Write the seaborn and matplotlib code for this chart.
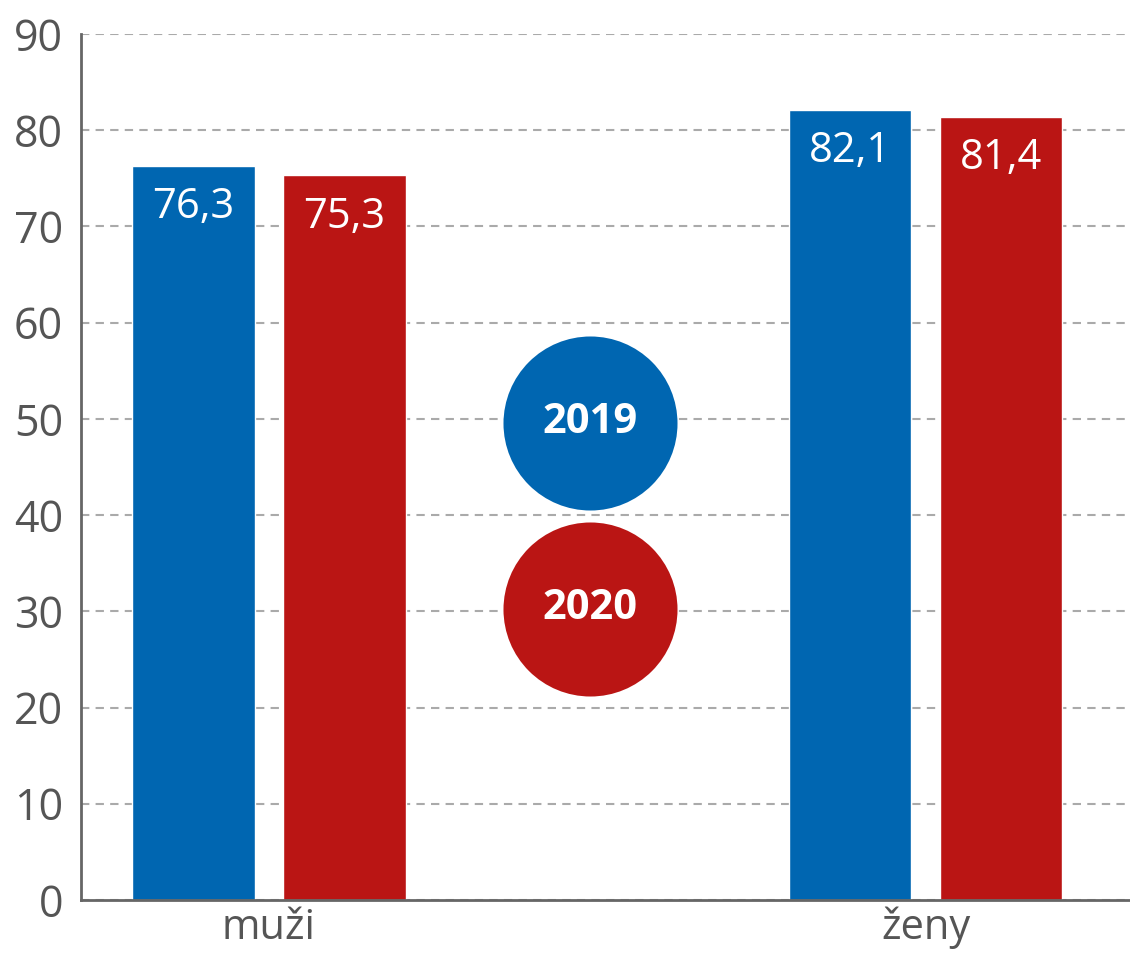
import matplotlib
matplotlib.use("Agg")
import matplotlib.pyplot as plt
import seaborn as sns
import pandas as pd

# data
groups = ["muži", "ženy"]
years = ["2019", "2020"]
val_2019 = [76.3, 82.1]
val_2020 = [75.3, 81.4]
colors = {"2019": "#0066b1", "2020": "#ba1514"}

df = pd.DataFrame({
    "pohlavi": groups * 2,
    "rok": [years[0]] * 2 + [years[1]] * 2,
    "hodnota": val_2019 + val_2020,
})

sns.set_style("white")
plt.rcParams["font.family"] = ["Open Sans", "DejaVu Sans"]

fig = plt.figure(figsize=(11.3, 9.57), dpi=100)
ax = fig.add_axes([0.0717, 0.0596, 0.9283, 0.9049])

sns.barplot(data=df, x="pohlavi", y="hodnota", hue="rok", order=groups,
            hue_order=years, palette=colors, width=0.46, gap=0.19,
            saturation=1, legend=False, ax=ax)

for cont in ax.containers:
    labels = [f"{b.get_height():.1f}".replace(".", ",") for b in cont]
    ax.bar_label(cont, labels=labels, padding=-45, color="white", fontsize=30)

ax.set_ylim(0, 90)
ax.set_yticks(range(0, 91, 10))
ax.set_xlim(-0.286, 1.311)
ax.set_xlabel("")
ax.set_ylabel("")

ax.yaxis.grid(True, linestyle=(0, (4, 3)), color="#aaaaaa", linewidth=1.5)
ax.set_axisbelow(True)
sns.despine(ax=ax, top=True, right=True)
for s in ["left", "bottom"]:
    ax.spines[s].set_color("#666666")
    ax.spines[s].set_linewidth(2)

ax.tick_params(axis="y", length=0, pad=13, labelsize=31, labelcolor="#555555")
ax.tick_params(axis="x", length=0, pad=5, labelsize=30, labelcolor="#555555")

# circle legend in the middle
for yr, yy in zip(years, [0.551, 0.336]):
    ax.scatter([0.485], [yy], s=15700, color=colors[yr], transform=ax.transAxes,
               clip_on=False, zorder=3, linewidths=0)
    ax.text(0.485, yy, yr, transform=ax.transAxes, ha="center", va="center",
            color="white", fontsize=30, fontweight="bold", zorder=4)

fig.savefig("out.png", dpi=100)
